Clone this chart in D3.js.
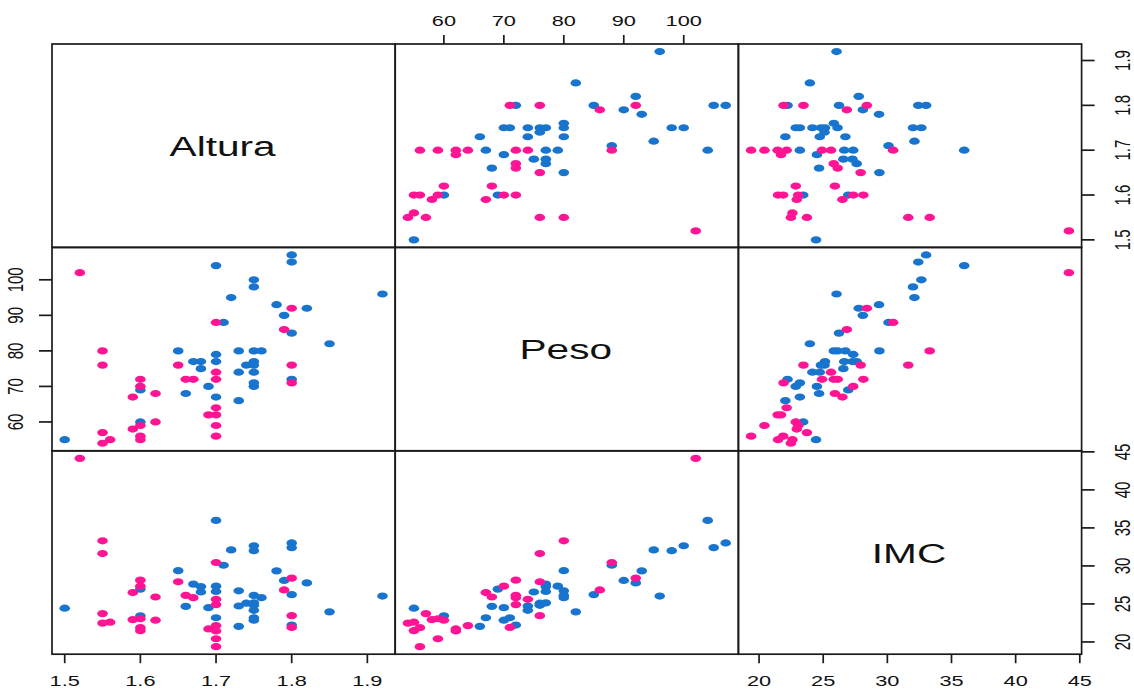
<!DOCTYPE html>
<html><head><meta charset="utf-8">
<script src="https://cdn.jsdelivr.net/npm/d3@7"></script>
<style>html,body{margin:0;padding:0;background:#fff;overflow:hidden;}</style>
</head><body>
<svg id="c" width="1134" height="690"></svg>
<script>
// ---- data ----
const varNames = ["Altura", "Peso", "IMC"];

const blueAltura = [1.50,1.60,1.60,1.65,1.66,1.67,1.68,1.68,1.69,1.70,1.70,1.70,1.70,1.71,1.72,1.73,1.73,1.73,1.74,1.75,1.75,1.75,1.75,1.75,1.75,1.75,1.75,1.76,1.78,1.79,1.80,1.80,1.80,1.80,1.82,1.85,1.92];
const bluePeso   = [55,60,69,80,68,77,77,75,70,67,77,79,104,88,95,66,74,80,76,70,71,74,76,77,80,98,100,80,93,90,72,85,105,107,92,82,96];
const blueIMC    = [24.44,23.44,26.95,29.38,24.68,27.61,27.28,26.57,24.51,23.18,26.64,27.34,35.99,30.09,32.11,22.05,24.73,26.73,25.10,22.86,23.18,24.16,24.82,25.14,26.12,32.00,32.65,25.83,29.35,28.09,22.22,26.23,32.41,33.02,27.77,23.96,26.04];

const pinkAltura = [1.52,1.55,1.55,1.56,1.55,1.55,1.59,1.59,1.60,1.60,1.60,1.60,1.60,1.62,1.62,1.65,1.66,1.67,1.69,1.70,1.70,1.70,1.70,1.70,1.70,1.70,1.79,1.80,1.80,1.80];
const pinkPeso   = [102,54,57,55,76,80,58,67,55,56,59,70,72,60,68,76,72,72,62,56,59,62,64,72,74,88,86,71,76,92];
const pinkIMC    = [44.15,22.48,23.73,22.60,31.63,33.30,22.94,26.50,21.48,21.88,23.05,27.34,28.13,22.86,25.91,27.92,26.13,25.82,21.71,19.38,20.42,21.45,22.15,24.91,25.61,30.45,26.84,21.91,23.46,28.40];

const alturaTicks = [1.5, 1.6, 1.7, 1.8, 1.9];
const pesoTicks   = [60, 70, 80, 90, 100];
const imcTicks    = [20, 25, 30, 35, 40, 45];

const groupColors = ["#1874CD", "#FF1493"];

// ---- build ----
const groups = [
  {color: groupColors[0], vals: [blueAltura, bluePeso, blueIMC]},
  {color: groupColors[1], vals: [pinkAltura, pinkPeso, pinkIMC]}
];
const tickSets = [alturaTicks, pesoTicks, imcTicks];

const L0 = 52, T0 = 44, W = 343.2, H = 203.4;
const SX = 1.45; // horizontal stretch of glyphs/points
const svg = d3.select("#c");

function padded(arrs) {
  const all = [].concat(...arrs);
  const [mn, mx] = d3.extent(all);
  const p = (mx - mn) * 0.04;
  return [mn - p, mx + p];
}
const domains = [0,1,2].map(i => padded(groups.map(g => g.vals[i])));
const xs = domains.map((d, c) => d3.scaleLinear().domain(d).range([L0 + c*W, L0 + (c+1)*W]));
const ys = domains.map((d, r) => d3.scaleLinear().domain(d).range([T0 + (r+1)*H, T0 + r*H]));

// points
for (let r = 0; r < 3; r++) {
  for (let c = 0; c < 3; c++) {
    if (r === c) continue;
    const g0 = svg.append("g");
    groups.forEach(g => {
      const pts = g.vals[c].map((v, k) => [v, g.vals[r][k]]);
      g0.selectAll(null).data(pts).enter().append("ellipse")
        .attr("cx", d => xs[c](d[0]))
        .attr("cy", d => ys[r](d[1]))
        .attr("rx", 5.3).attr("ry", 3.6)
        .attr("fill", g.color);
    });
  }
}

// diagonal labels
varNames.forEach((name, i) => {
  const cx = L0 + (i + 0.5) * W, cy = T0 + (i + 0.5) * H;
  svg.append("text")
    .attr("transform", `translate(${cx - 1},${cy + 10}) scale(${SX},1)`)
    .attr("text-anchor", "middle")
    .attr("font-family", "Liberation Sans, Arial, sans-serif")
    .attr("font-size", 28).attr("fill", "#111")
    .text(name);
});

// panel frames
for (let r = 0; r < 3; r++) for (let c = 0; c < 3; c++) {
  svg.append("rect")
    .attr("x", L0 + c*W).attr("y", T0 + r*H)
    .attr("width", W).attr("height", H)
    .attr("fill", "none").attr("stroke", "#1a1a1a").attr("stroke-width", 1.7);
}

// axes
const fontFam = "Liberation Sans, Arial, sans-serif";
const fs = 15;
const fmt = d => String(d);
[0,1,2].forEach(i => {
  const ticks = tickSets[i];
  const g = svg.append("g").attr("stroke", "#1a1a1a").attr("stroke-width", 1.7);
  const tg = svg.append("g").attr("font-family", fontFam).attr("font-size", fs).attr("fill", "#111").attr("text-anchor", "middle");
  const even = (i % 2 === 0);
  const yEdge = even ? T0 + 3*H : T0;
  const dir = even ? 1 : -1;
  ticks.forEach(t => {
    const x = xs[i](t);
    g.append("line").attr("x1", x).attr("x2", x).attr("y1", yEdge).attr("y2", yEdge + dir*9);
    tg.append("text")
      .attr("transform", `translate(${x},${even ? 686 : 26}) scale(${SX},1)`)
      .text(fmt(t));
  });
  const xEdge = even ? L0 + 3*W : L0;
  ticks.forEach(t => {
    const y = ys[i](t);
    g.append("line").attr("x1", xEdge).attr("x2", xEdge + (even ? 13 : -13)).attr("y1", y).attr("y2", y);
    tg.append("text")
      .attr("transform", `translate(${even ? 1130 : 23},${y}) scale(${SX},1) rotate(-90)`)
      .text(fmt(t));
  });
});
</script>
</body></html>
